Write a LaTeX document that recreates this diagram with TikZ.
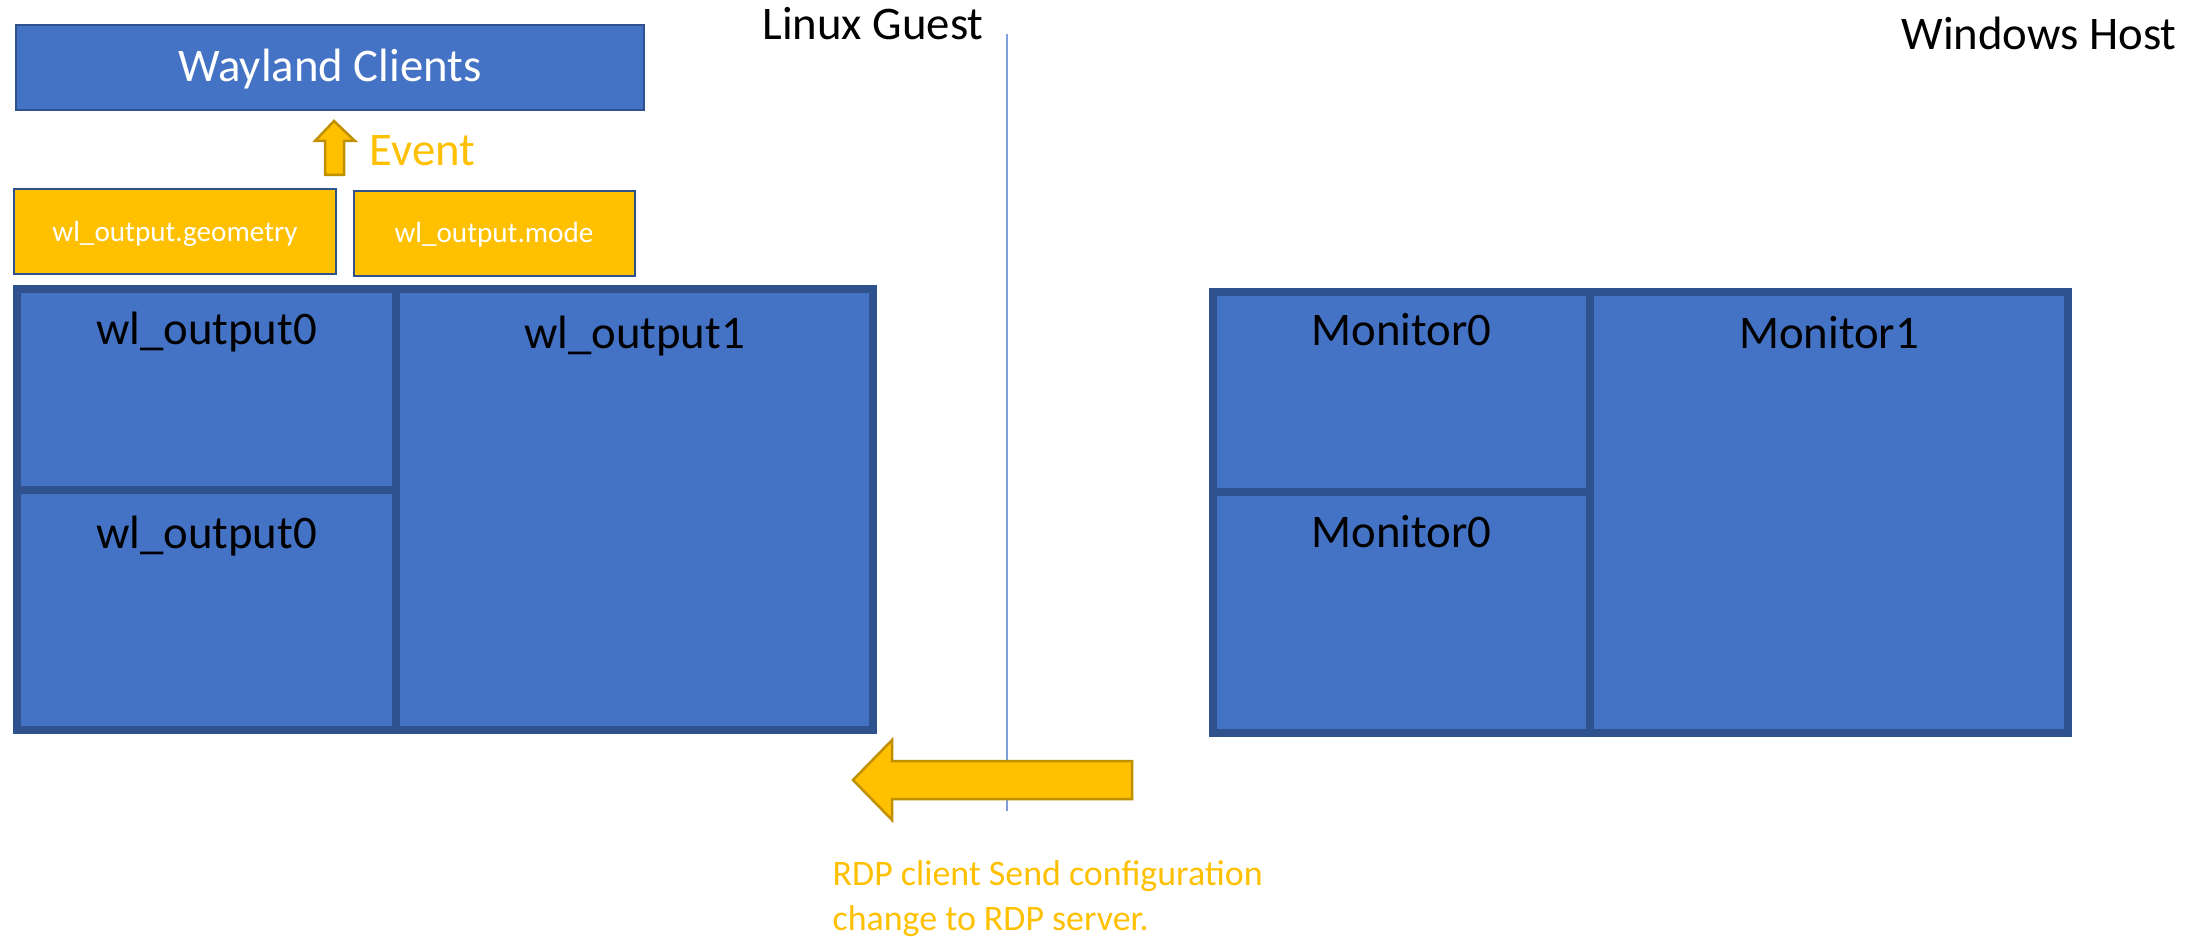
\documentclass[tikz,border=0pt]{standalone}
\usepackage{fontspec}
\setmainfont{Carlito}
\usetikzlibrary{fit}
\usetikzlibrary{math}
\definecolor{scrblue}{HTML}{4472C4}
\definecolor{scredge}{HTML}{2F528F}
\definecolor{evgold}{HTML}{FFC000}
\definecolor{evedge}{HTML}{BF9000}
\definecolor{sepblue}{HTML}{7F9FDC}
\tikzset{screen/.style={draw=scredge, fill=scrblue, line width=0.08cm, inner sep=0pt, outer sep=0pt},
	scrlabel/.style={font=\fontsize{13.3}{16}\selectfont, anchor=base, inner sep=0pt},
	msgbox/.style={draw=scredge, fill=evgold, line width=0.025cm, inner sep=0pt, outer sep=0pt},
	msglabel/.style={text=white, font=\fontsize{8.3}{10}\selectfont, anchor=base, inner sep=0pt},
	blockarrow/.style={draw=evedge, fill=evgold, line width=0.025cm, line join=miter}}

\begin{document}
\begin{tikzpicture}[x=0.01cm,y=-0.01cm]
	\tikzmath{\lx=17; \lm=396; \lr=873; \lt=289; \lh=490; \lb=730;
	\rx=1213; \rm=1590; \rr=2068; \rt=292; \rh=492; \rb=733;
	\sx=1007;
	}
	\useasboundingbox (0,0) rectangle (2210,937);
	% guest side
	\node[msgbox, fill=scrblue, fit={(16,25) (644,110)}] (clients) {};
	\node[scrlabel, text=white] (lblclients) at (330,82) {Wayland Clients};
	\node[msgbox, fit={(14,189) (336,274)}] (geom) {};
	\node[msglabel] (lblgeom) at (175,242) {wl\_output.geometry};
	\node[msgbox, fit={(354,191) (635,276)}] (mode) {};
	\node[msglabel] (lblmode) at (494,243) {wl\_output.mode};
	\draw[blockarrow] (325,175) -- (325,141) -- (315,141) -- (334,121) -- (355,141) -- (344,141) -- (344,175) -- cycle;
	\node[scrlabel, anchor=base west, text=evgold] (event) at (369,166) {Event};
	\node[screen, fit={(\lx,\lt) (\lm,\lh)}] (out0a) {};
	\node[screen, fit={(\lx,\lh) (\lm,\lb)}] (out0b) {};
	\node[screen, fit={(\lm,\lt) (\lr,\lb)}] (out1) {};
	\node[scrlabel] (lbl0a) at ([yshift=-0.55cm]out0a.north) {wl\_output0};
	\node[scrlabel] (lbl0b) at ([yshift=-0.58cm]out0b.north) {wl\_output0};
	\node[scrlabel] (lbl1) at ([yshift=-0.59cm]out1.north) {wl\_output1};
	% host side
	\node[screen, fit={(\rx,\rt) (\rm,\rh)}] (mon0a) {};
	\node[screen, fit={(\rx,\rh) (\rm,\rb)}] (mon0b) {};
	\node[screen, fit={(\rm,\rt) (\rr,\rb)}] (mon1) {};
	\node[scrlabel] (lblm0a) at ([yshift=-0.53cm]mon0a.north) {Monitor0};
	\node[scrlabel] (lblm0b) at ([yshift=-0.55cm]mon0b.north) {Monitor0};
	\node[scrlabel] (lblm1) at ([yshift=-0.56cm]mon1.north) {Monitor1};
	\node[scrlabel] (guest) at (873,40) {Linux Guest};
	\node[scrlabel] (host) at (2039,50) {Windows Host};
	\draw[sepblue, line width=0.02cm] (\sx,34) -- (\sx,811);
	\draw[blockarrow] (1132,761) -- (892,761) -- (892,740) -- (853,780) -- (892,820) -- (892,799) -- (1132,799) -- cycle;
	\node[anchor=north west, inner sep=0pt, align=left, text=evgold, font=\fontsize{10.2}{12.8}\selectfont] (rdp) at (832,860) {RDP client Send configuration\\change to RDP server.};
\end{tikzpicture}
\end{document}
